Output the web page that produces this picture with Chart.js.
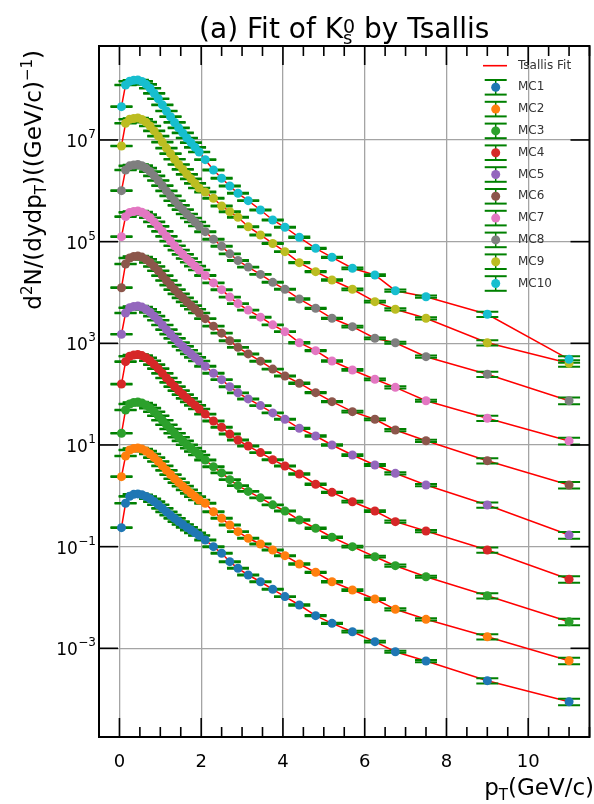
<!DOCTYPE html>
<html lang="en">
<head>
<meta charset="UTF-8">
<title>Fit of K0s by Tsallis</title>
<script src="https://cdn.jsdelivr.net/npm/chart.js"></script>
<style>
  html, body { margin: 0; padding: 0; background: #fff; }
  #wrap { width: 594px; height: 804px; }
</style>
</head>
<body>
<div id="wrap"><canvas id="myChart" width="594" height="804"></canvas></div>
<script>
// pT bin centres (GeV/c)
const ptBins = [0.05, 0.15, 0.25, 0.35, 0.45, 0.55, 0.65, 0.75, 0.85, 0.95,
                1.05, 1.15, 1.25, 1.35, 1.45, 1.55, 1.65, 1.75, 1.85, 1.95,
                2.1, 2.3, 2.5, 2.7, 2.9, 3.15, 3.45, 3.75, 4.05,
                4.4, 4.8, 5.2, 5.7, 6.25, 6.75, 7.5, 9.0, 11.0];

// d2N/(dy dpT) for each MC sample
const mc1 = [0.236, 0.713, 0.977, 1.07, 1.09, 1.05, 0.971, 0.875, 0.767, 0.667,
             0.568, 0.484, 0.417, 0.359, 0.311, 0.273, 0.239, 0.212, 0.187, 0.166,
             0.135, 0.0998, 0.0740, 0.0506, 0.0375, 0.0277, 0.0204, 0.0145, 0.0104,
             0.00711, 0.00439, 0.00310, 0.00212, 0.00135, 0.000857, 0.000562, 0.000231, 0.000089];
const mc2 = [2.38, 6.07, 7.98, 8.53, 8.73, 8.34, 7.59, 6.65, 5.65, 4.73,
             3.87, 3.17, 2.62, 2.17, 1.82, 1.55, 1.31, 1.12, 0.964, 0.828,
             0.713, 0.486, 0.361, 0.267, 0.197, 0.146, 0.113, 0.0859, 0.0664,
             0.0456, 0.0313, 0.0204, 0.0140, 0.00933, 0.00585, 0.00372, 0.00169, 0.00057];
const mc3 = [17.0, 48.8, 64.0, 68.5, 70.1, 66.8, 60.7, 53.2, 45.0, 37.6,
             30.6, 25.0, 20.6, 17.0, 14.2, 12.0, 10.1, 8.69, 7.43, 6.35,
             5.06, 3.73, 2.82, 2.08, 1.59, 1.22, 0.912, 0.664, 0.502,
             0.334, 0.230, 0.153, 0.0998, 0.0634, 0.0422, 0.0256, 0.0108, 0.00333];
const mc4 = [158, 435, 556, 589, 603, 574, 520, 454, 382, 317,
             257, 208, 171, 141, 117, 98.2, 82.6, 70.3, 60.0, 51.1,
             40.5, 29.7, 22.3, 16.4, 12.5, 9.53, 7.08, 5.13, 3.86,
             2.69, 1.69, 1.17, 0.766, 0.502, 0.310, 0.203, 0.0859, 0.0228];
const mc5 = [1507, 3954, 5012, 5297, 5420, 5152, 4667, 4074, 3420, 2838,
             2296, 1858, 1521, 1247, 1033, 869, 729, 621, 527, 449,
             354, 258, 193, 140, 106, 80.5, 59.6, 42.8, 32.0,
             21.3, 15.0, 10.0, 6.35, 4.04, 2.77, 1.63, 0.659, 0.169];
const mc6 = [12420, 36390, 47750, 51050, 52240, 49660, 44770, 38820, 32430, 26730,
             21430, 17220, 14000, 11400, 9397, 7834, 6546, 5534, 4677, 3954,
             3055, 2173, 1585, 1125, 834, 618, 445, 311, 228,
             164, 107, 71.1, 45.2, 32.0, 19.7, 12.1, 4.91, 1.63];
const mc7 = [125300, 309700, 375800, 391700, 400900, 380200, 341200, 295100, 244300, 200000,
             159600, 127100, 102600, 82990, 67920, 56230, 46670, 39260, 32960, 27730,
             21580, 15420, 11350, 8110, 6039, 4508, 3266, 2307, 1694,
             1028, 716, 449, 299, 196, 136, 74.3, 33.5, 12.0];
const mc8 = [1.007e6, 2.570e6, 3.097e6, 3.221e6, 3.296e6, 3.119e6, 2.786e6, 2.393e6, 1.968e6, 1.596e6,
             1.262e6, 9.954e5, 7.962e5, 6.368e5, 5.164e5, 4.256e5, 3.499e5, 2.917e5, 2.438e5, 2.032e5,
             1.570e5, 1.114e5, 8.128e4, 5.754e4, 4.256e4, 3.155e4, 2.270e4, 1.585e4, 1.156e4,
             7447, 4887, 3105, 2123, 1256, 1028, 546, 246, 74.3];
const mc9 = [7.621e6, 2.133e7, 2.553e7, 2.649e7, 2.710e7, 2.541e7, 2.239e7, 1.884e7, 1.507e7, 1.189e7,
             9.078e6, 6.934e6, 5.383e6, 4.178e6, 3.289e6, 2.636e6, 2.113e6, 1.718e6, 1.400e6, 1.138e6,
             9.484e5, 7.129e5, 5.035e5, 3.882e5, 3.013e5, 1.968e5, 1.352e5, 9.204e4, 6.353e4,
             3.855e4, 2.564e4, 1.762e4, 1.156e4, 6592, 4667, 3105, 1028, 405];
const mc10 = [4.519e7, 1.208e8, 1.432e8, 1.496e8, 1.514e8, 1.419e8, 1.245e8, 1.040e8, 8.279e7, 6.486e7,
              4.909e7, 3.724e7, 2.871e7, 2.213e7, 1.730e7, 1.377e7, 1.096e7, 8.872e6, 7.178e6, 5.808e6,
              4.100e6, 2.570e6, 1.766e6, 1.245e6, 8.933e5, 6.397e5, 4.198e5, 2.667e5, 1.919e5,
              1.219e5, 7.396e4, 4.920e4, 2.992e4, 2.208e4, 1.084e4, 8260, 3724, 485];

// relative uncertainty per pT bin (same for all samples)
const relErr = [0.015, 0.015, 0.015, 0.015, 0.015, 0.015, 0.015, 0.015, 0.015, 0.015,
                0.015, 0.015, 0.015, 0.015, 0.015, 0.015, 0.015, 0.015, 0.015, 0.015,
                0.02, 0.02, 0.02, 0.02, 0.02, 0.02, 0.02, 0.02, 0.02,
                0.03, 0.03, 0.03, 0.04, 0.04, 0.05, 0.05, 0.12, 0.15];

const seriesNames = ['MC1', 'MC2', 'MC3', 'MC4', 'MC5', 'MC6', 'MC7', 'MC8', 'MC9', 'MC10'];
const seriesColors = ['#1f77b4', '#ff7f0e', '#2ca02c', '#d62728', '#9467bd',
                      '#8c564b', '#e377c2', '#7f7f7f', '#bcbd22', '#17becf'];
const allSeries = [mc1, mc2, mc3, mc4, mc5, mc6, mc7, mc8, mc9, mc10];

const xTicks = [0, 2, 4, 6, 8, 10];
const yTicks = [1e-3, 1e-1, 1e1, 1e3, 1e5, 1e7];
const yTickExp = ['\u22123', '\u22121', '1', '3', '5', '7'];

const FONT = '"DejaVu Sans"';
const errColor = '#008000';

// build the datasets: markers + red fit curve for every sample
const datasets = [];
allSeries.forEach(function (vals, k) {
    const pts = ptBins.map(function (x, i) { return { x: x, y: vals[i] }; });
    datasets.push({
        label: seriesNames[k],
        data: pts,
        showLine: false,
        pointRadius: 4.5,
        pointHoverRadius: 4.5,
        pointBackgroundColor: seriesColors[k],
        pointBorderWidth: 0,
        order: -k - 1
    });
    datasets.push({
        label: 'Tsallis Fit',
        isFit: true,
        data: pts,
        showLine: true,
        borderColor: '#ff0000',
        borderWidth: 1.5,
        pointRadius: 0,
        pointHoverRadius: 0,
        order: 1
    });
});

// text made of pieces with different size / vertical shift (sub- and superscripts)
function richText(ctx, segs, x, y, align) {
    const widths = segs.map(function (s) {
        ctx.font = s.size + 'px ' + FONT;
        return ctx.measureText(s.t).width;
    });
    let total = 0, pend = 0;
    segs.forEach(function (s, i) {
        if (s.stack) { pend = Math.max(pend, widths[i]); }
        else { total += Math.max(widths[i], pend); pend = 0; }
    });
    let cx = align === 'right' ? x - total : (align === 'center' ? x - total / 2 : x);
    pend = 0;
    ctx.textAlign = 'left';
    ctx.textBaseline = 'alphabetic';
    segs.forEach(function (s, i) {
        ctx.font = s.size + 'px ' + FONT;
        ctx.fillText(s.t, cx, y + (s.dy || 0));
        if (s.stack) { pend = Math.max(pend, widths[i]); }
        else { cx += Math.max(widths[i], pend); pend = 0; }
    });
    return total;
}

function seg(ctx, x1, y1, x2, y2) {
    ctx.beginPath();
    ctx.moveTo(x1, y1);
    ctx.lineTo(x2, y2);
    ctx.stroke();
}

// green error bars with caps, drawn below the markers
const errorBarPlugin = {
    id: 'errorBars',
    beforeDatasetsDraw(chart) { chart.$errDone = false; },
    beforeDatasetDraw(chart, args) {
        const ds = chart.data.datasets[args.index];
        if (ds.isFit || chart.$errDone) return;
        chart.$errDone = true;
        const ctx = chart.ctx, a = chart.chartArea;
        const xs = chart.scales.x, ys = chart.scales.y;
        ctx.save();
        ctx.beginPath();
        ctx.rect(a.left, a.top, a.right - a.left, a.bottom - a.top);
        ctx.clip();
        ctx.strokeStyle = errColor;
        chart.data.datasets.forEach(function (d) {
            if (d.isFit) return;
            d.data.forEach(function (p, i) {
                const px = xs.getPixelForValue(p.x);
                const hi = ys.getPixelForValue(p.y * (1 + relErr[i]));
                const lo = ys.getPixelForValue(p.y * (1 - relErr[i]));
                ctx.lineWidth = 1.5;
                seg(ctx, px, hi, px, lo);
                ctx.lineWidth = 2;
                seg(ctx, px - 11, hi, px + 11, hi);
                seg(ctx, px - 11, lo, px + 11, lo);
            });
        });
        ctx.restore();
    }
};

// frame, inward ticks, tick labels, axis titles, title and legend
const decorPlugin = {
    id: 'decor',
    afterDraw(chart) {
        const ctx = chart.ctx, a = chart.chartArea;
        const xs = chart.scales.x, ys = chart.scales.y;
        ctx.save();
        ctx.strokeStyle = '#000';
        ctx.lineWidth = 2;
        ctx.strokeRect(a.left, a.top, a.right - a.left, a.bottom - a.top);

        // x ticks (major every 2, minor every 0.5), top and bottom
        ctx.lineWidth = 1.6;
        for (let v = -0.5; v <= 11.5; v += 0.5) {
            const px = xs.getPixelForValue(v);
            const len = xTicks.includes(v) ? 19 : 10;
            seg(ctx, px, a.bottom, px, a.bottom - len);
            seg(ctx, px, a.top, px, a.top + len);
        }
        // y ticks left and right
        yTicks.forEach(function (v) {
            const py = ys.getPixelForValue(v);
            seg(ctx, a.left, py, a.left + 19, py);
            seg(ctx, a.right, py, a.right - 19, py);
        });

        ctx.fillStyle = '#000';
        // x tick labels
        ctx.font = '18px ' + FONT;
        ctx.textAlign = 'center';
        ctx.textBaseline = 'alphabetic';
        xTicks.forEach(function (v) {
            ctx.fillText(String(v), xs.getPixelForValue(v), a.bottom + 30);
        });
        // y tick labels 10^n
        yTicks.forEach(function (v, i) {
            const py = ys.getPixelForValue(v);
            ctx.textAlign = 'right';
            ctx.font = '12px ' + FONT;
            const ew = ctx.measureText(yTickExp[i]).width;
            ctx.fillText(yTickExp[i], 96, py - 2);
            ctx.font = '17px ' + FONT;
            ctx.fillText('10', 96 - ew - 0.5, py + 7);
        });

        // axis titles
        richText(ctx, [
            { t: 'p', size: 23 },
            { t: 'T', size: 15, dy: 5 },
            { t: '(GeV/c)', size: 23 }
        ], 594, 795, 'right');

        ctx.save();
        ctx.translate(41, 50);
        ctx.rotate(-Math.PI / 2);
        richText(ctx, [
            { t: 'd', size: 23 },
            { t: '2', size: 15, dy: -9 },
            { t: 'N/(dydp', size: 23 },
            { t: 'T', size: 15, dy: 5 },
            { t: ')((GeV/c)', size: 23 },
            { t: '\u22121', size: 15, dy: -9 },
            { t: ')', size: 23 }
        ], 0, 0, 'right');
        ctx.restore();

        // title
        richText(ctx, [
            { t: '(a) Fit of K', size: 28 },
            { t: '0', size: 19, dy: -5, stack: true },
            { t: 's', size: 18, dy: 6.5 },
            { t: ' by Tsallis', size: 28 }
        ], (a.left + a.right) / 2, 37.5, 'center');

        // legend
        const lx = 495.7, tx = 518;
        ctx.textAlign = 'left';
        ctx.textBaseline = 'middle';
        ctx.font = '12px ' + FONT;
        ctx.strokeStyle = '#ff0000';
        ctx.lineWidth = 1.6;
        seg(ctx, 483, 65.7, 507, 65.7);
        ctx.fillStyle = '#333';
        ctx.fillText('Tsallis Fit', tx, 65.7);
        seriesNames.forEach(function (name, k) {
            const cy = 87.3 + k * 21.8;
            ctx.strokeStyle = errColor;
            ctx.lineWidth = 1.5;
            seg(ctx, lx, cy - 7.3, lx, cy + 7.3);
            ctx.lineWidth = 2;
            seg(ctx, lx - 11, cy - 7.3, lx + 11, cy - 7.3);
            seg(ctx, lx - 11, cy + 7.3, lx + 11, cy + 7.3);
            ctx.fillStyle = seriesColors[k];
            ctx.beginPath();
            ctx.arc(lx, cy, 4.5, 0, Math.PI * 2);
            ctx.fill();
            ctx.fillStyle = '#333';
            ctx.fillText(name, tx, cy);
        });
        ctx.restore();
    }
};

const gridColor = '#a4a4a4';

const config = {
    type: 'scatter',
    data: { datasets: datasets },
    options: {
        responsive: false,
        animation: false,
        devicePixelRatio: 1,
        events: [],
        layout: { padding: { top: 46, right: 1, left: 0, bottom: 0 } },
        plugins: {
            legend: { display: false },
            title: { display: false },
            tooltip: { enabled: false }
        },
        scales: {
            x: {
                type: 'linear',
                min: -0.5,
                max: 11.5,
                afterBuildTicks: function (s) { s.ticks = xTicks.map(function (v) { return { value: v }; }); },
                afterFit: function (s) { s.height = 67; },
                ticks: { display: false },
                grid: { color: gridColor, lineWidth: 1.3, drawTicks: false },
                border: { display: false }
            },
            y: {
                type: 'logarithmic',
                min: 1.8e-5,
                max: 7.06e8,
                afterBuildTicks: function (s) { s.ticks = yTicks.map(function (v) { return { value: v }; }); },
                afterFit: function (s) { s.width = 99; },
                ticks: { display: false },
                grid: { color: gridColor, lineWidth: 1.3, drawTicks: false },
                border: { display: false }
            }
        }
    },
    plugins: [errorBarPlugin, decorPlugin]
};

let myChart = new Chart(document.getElementById('myChart'), config);
</script>
</body>
</html>
